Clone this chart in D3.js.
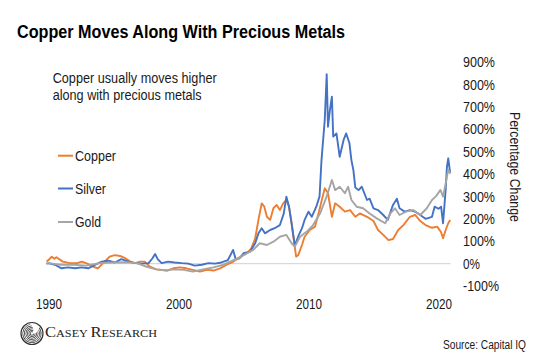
<!DOCTYPE html>
<html>
<head>
<meta charset="utf-8">
<script src="https://cdn.jsdelivr.net/npm/d3@7"></script>
<style>
  html, body { margin: 0; padding: 0; background: #fff; }
  svg { display: block; font-family: "Liberation Sans", Arial, sans-serif; }
</style>
</head>
<body>
<svg id="chart" width="550" height="359"></svg>
<script>
// ---- DATA (decimal year, percentage change) ----
const seriesNames = ["Copper", "Silver", "Gold"];
const seriesColors = ["#ED7D31", "#4472C4", "#A5A5A5"];

const copper = [
  [1989.85,10],[1990.0,16],[1990.25,31],[1990.45,22],[1990.6,28],[1991.1,9],[1991.65,2],[1992.2,2],
  [1992.55,9],[1992.9,2],[1993.45,-14],[1993.8,-21],[1994.2,2],[1994.7,31],[1995.1,38],[1995.5,34],
  [1995.9,24],[1996.3,9],[1996.65,2],[1997.05,9],[1997.4,9],[1997.8,-14],[1998.3,-26],[1999.1,-31],
  [1999.6,-21],[2000.1,-17],[2000.6,-21],[2001.1,-28],[2001.65,-36],[2002.2,-28],[2002.7,-31],
  [2003.2,-21],[2003.7,-5],[2004.2,8],[2004.7,28],[2005.25,46],[2005.6,68],[2005.9,113],[2006.15,195],
  [2006.4,269],[2006.6,254],[2006.8,209],[2007.05,195],[2007.3,247],[2007.55,262],[2007.8,239],
  [2008.05,269],[2008.3,284],[2008.5,254],[2008.7,180],[2008.9,91],[2009.05,31],[2009.2,37],
  [2009.5,83],[2009.7,120],[2010.1,150],[2010.5,165],[2010.8,230],[2011.05,290],[2011.25,336],
  [2011.5,314],[2011.8,209],[2012.05,269],[2012.4,254],[2012.8,232],[2013.2,239],[2013.6,209],
  [2013.95,224],[2014.5,209],[2015.0,190],[2015.35,150],[2015.75,128],[2016.15,105],[2016.5,110],
  [2016.9,150],[2017.3,172],[2017.8,209],[2018.2,217],[2018.6,190],[2019.0,172],[2019.5,160],
  [2019.9,165],[2020.2,140],[2020.35,113],[2020.55,150],[2020.75,180],[2020.9,195]
];

const silver = [
  [1989.85,0],[1990.0,2],[1990.5,-5],[1991.0,-21],[1991.5,-17],[1992.05,-21],[1992.55,-17],
  [1993.05,-21],[1993.6,-5],[1994.1,9],[1994.6,13],[1995.1,5],[1995.6,20],[1996.15,9],[1996.65,2],
  [1997.15,0],[1997.7,2],[1998.0,24],[1998.2,43],[1998.4,20],[1998.7,2],[1999.2,9],[1999.7,5],
  [2000.25,2],[2000.75,0],[2001.25,-9],[2001.8,-5],[2002.3,2],[2002.8,0],[2003.3,5],[2003.8,16],
  [2004.2,61],[2004.4,20],[2004.7,24],[2005.0,46],[2005.5,53],[2005.9,91],[2006.15,135],[2006.4,158],
  [2006.65,135],[2007.05,150],[2007.4,158],[2007.8,172],[2008.1,224],[2008.3,299],[2008.5,254],
  [2008.7,180],[2008.95,80],[2009.2,120],[2009.5,158],[2009.7,195],[2010.0,232],[2010.25,209],
  [2010.6,254],[2010.85,300],[2011.0,462],[2011.25,641],[2011.4,845],[2011.5,611],[2011.65,686],
  [2011.8,745],[2011.9,567],[2012.15,581],[2012.4,477],[2012.7,552],[2012.9,581],[2013.15,537],
  [2013.3,462],[2013.45,418],[2013.6,340],[2013.85,328],[2014.1,343],[2014.5,284],[2014.7,290],
  [2015.0,247],[2015.35,239],[2015.75,217],[2016.1,195],[2016.5,262],[2016.8,290],[2017.0,247],
  [2017.4,232],[2017.8,239],[2018.2,232],[2018.6,217],[2019.0,200],[2019.5,209],[2019.7,254],
  [2020.0,245],[2020.2,254],[2020.35,180],[2020.55,329],[2020.65,433],[2020.75,470],[2020.9,403]
];

const gold = [
  [1989.85,0],[1990.0,2],[1990.9,-5],[1991.9,-5],[1992.9,-9],[1993.95,2],[1995.0,5],[1996.0,6],
  [1996.8,2],[1997.55,-14],[1998.3,-26],[1999.1,-31],[1999.6,-26],[2000.4,-28],[2001.1,-36],
  [2001.9,-26],[2002.7,-17],[2003.45,-5],[2004.2,15],[2004.7,25],[2005.0,38],[2005.75,61],
  [2006.25,91],[2006.8,83],[2007.3,98],[2007.8,120],[2008.3,128],[2008.7,91],[2008.95,76],
  [2009.35,120],[2009.85,142],[2010.35,172],[2010.9,225],[2011.4,300],[2011.8,373],[2012.05,328],
  [2012.4,343],[2012.8,314],[2013.05,343],[2013.3,284],[2013.7,254],[2014.2,247],[2014.7,224],
  [2015.25,202],[2015.9,180],[2016.3,224],[2016.65,247],[2017.0,217],[2017.5,232],[2018.05,239],
  [2018.6,217],[2019.1,247],[2019.5,284],[2019.8,300],[2020.15,329],[2020.35,299],[2020.55,358],
  [2020.75,418],[2020.9,403]
];

const yTicks = [-100, 0, 100, 200, 300, 400, 500, 600, 700, 800, 900];
const xTicks = [1990, 2000, 2010, 2020];

// ---- CHART ----
const svg = d3.select("#chart");
const x = d3.scaleLinear().domain([1990, 2020]).range([48.5, 438.5]);
const y = d3.scaleLinear().domain([-100, 900]).range([286, 62]);
const txt = "#1a1a1a";

// title
svg.append("text").attr("x", 17).attr("y", 37.5)
  .attr("font-size", 18).attr("font-weight", "bold").attr("fill", "#000")
  .attr("textLength", 328).attr("lengthAdjust", "spacingAndGlyphs")
  .text("Copper Moves Along With Precious Metals");

// zero gridline
svg.append("line")
  .attr("x1", x(1989.8)).attr("x2", x(2020.92))
  .attr("y1", y(0)).attr("y2", y(0))
  .attr("stroke", "#d9d9d9").attr("stroke-width", 1.2);

// lines
const line = d3.line().x(d => x(d[0])).y(d => y(d[1]));
[copper, silver, gold].forEach((s, i) => {
  svg.append("path").datum(s)
    .attr("fill", "none").attr("stroke", seriesColors[i])
    .attr("stroke-width", 1.9).attr("stroke-linejoin", "round")
    .attr("d", line);
});

// y axis (right)
const yAxis = svg.append("g").attr("transform", "translate(463,0)")
  .call(d3.axisRight(y).tickValues(yTicks).tickFormat(d => d + "%").tickSize(0).tickPadding(0));
yAxis.select(".domain").remove();
yAxis.selectAll("text")
  .attr("font-size", 14.5).attr("fill", txt).attr("font-family", "Liberation Sans, Arial, sans-serif")
  .attr("lengthAdjust", "spacingAndGlyphs")
  .attr("textLength", d => (d < 0 ? 36 : d === 0 ? 17 : 32));

// x axis
const xAxis = svg.append("g").attr("transform", "translate(0,299.4)")
  .call(d3.axisBottom(x).tickValues(xTicks).tickFormat(d3.format("d")).tickSize(0).tickPadding(0));
xAxis.select(".domain").remove();
xAxis.selectAll("text")
  .attr("font-size", 14).attr("fill", txt).attr("font-family", "Liberation Sans, Arial, sans-serif")
  .attr("lengthAdjust", "spacingAndGlyphs").attr("textLength", 26);

// y axis title
svg.append("text")
  .attr("transform", "translate(510,167) rotate(90)")
  .attr("text-anchor", "middle").attr("font-size", 14.5).attr("fill", txt)
  .attr("textLength", 110).attr("lengthAdjust", "spacingAndGlyphs")
  .text("Percentage Change");

// annotation
svg.append("text").attr("x", 52.7).attr("y", 83).attr("font-size", 14).attr("fill", txt)
  .attr("textLength", 164).attr("lengthAdjust", "spacingAndGlyphs")
  .text("Copper usually moves higher");
svg.append("text").attr("x", 52.7).attr("y", 100).attr("font-size", 14).attr("fill", txt)
  .attr("textLength", 149).attr("lengthAdjust", "spacingAndGlyphs")
  .text("along with precious metals");

// legend
const legY = [155.7, 188.5, 222];
const legW = [41, 31, 26];
seriesNames.forEach((n, i) => {
  svg.append("line").attr("x1", 58).attr("x2", 73).attr("y1", legY[i]).attr("y2", legY[i])
    .attr("stroke", seriesColors[i]).attr("stroke-width", 2);
  svg.append("text").attr("x", 75).attr("y", legY[i] + 5).attr("font-size", 14).attr("fill", txt)
    .attr("textLength", legW[i]).attr("lengthAdjust", "spacingAndGlyphs").text(n);
});

// source
svg.append("text").attr("x", 443).attr("y", 349).attr("font-size", 12).attr("fill", txt)
  .attr("textLength", 83).attr("lengthAdjust", "spacingAndGlyphs").text("Source: Capital IQ");

// Casey Research logo
const logo = svg.append("g").attr("transform", "translate(32,333.5)");
logo.append("circle").attr("r", 11).attr("fill", "none").attr("stroke", "#333").attr("stroke-width", 1.2);
const arc = d3.arc();
[9.5, 8, 6.5, 5, 3.5, 2].forEach((r, i) => {
  logo.append("path")
    .attr("d", arc({innerRadius: r - 0.7, outerRadius: r, startAngle: 0.9 + i * 0.15, endAngle: 0.9 + i * 0.15 + 5.2}))
    .attr("fill", "#333");
});
const ct = svg.append("text").attr("x", 45).attr("y", 337).attr("fill", "#222")
  .attr("font-family", "Liberation Serif, 'Times New Roman', serif")
  .attr("textLength", 112).attr("lengthAdjust", "spacingAndGlyphs");
ct.append("tspan").attr("font-size", 15).text("C");
ct.append("tspan").attr("font-size", 11).text("ASEY ");
ct.append("tspan").attr("font-size", 15).text("R");
ct.append("tspan").attr("font-size", 11).text("ESEARCH");
</script>
</body>
</html>
